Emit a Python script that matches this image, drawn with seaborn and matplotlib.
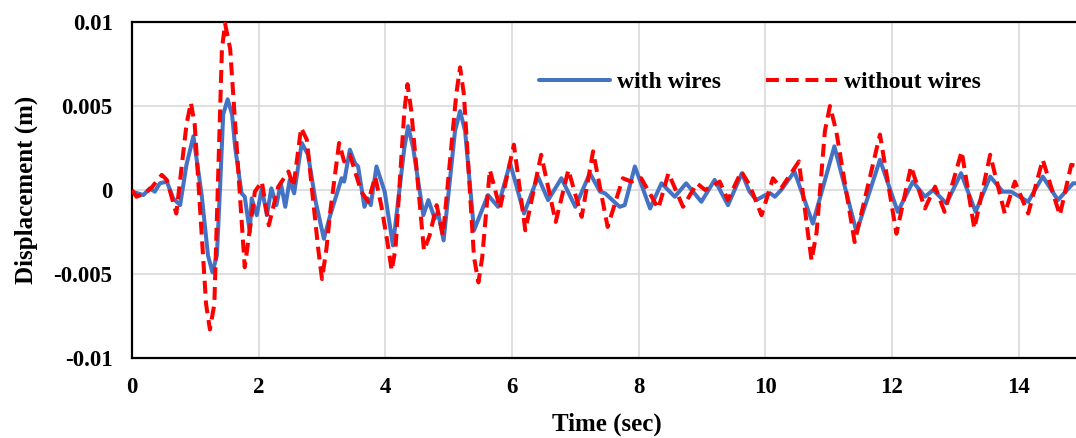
import matplotlib
matplotlib.use("Agg")
import matplotlib.pyplot as plt
import seaborn as sns
import pandas as pd

# ---- data ----
time_with = [0.00, 0.18, 0.28, 0.36, 0.44, 0.55, 0.65, 0.76, 0.86, 0.97, 1.10, 1.20, 1.27, 1.34,
             1.39, 1.44, 1.51, 1.58, 1.63, 1.73, 1.78, 1.86, 1.89, 1.97, 2.05, 2.13, 2.20, 2.28,
             2.35, 2.42, 2.49, 2.56, 2.68, 2.78, 2.90, 3.03, 3.13, 3.31, 3.35, 3.44, 3.52, 3.57,
             3.67, 3.72, 3.77, 3.86, 3.99, 4.12, 4.30, 4.36, 4.44, 4.60, 4.68, 4.78, 4.83, 4.92,
             5.10, 5.18, 5.26, 5.40, 5.62, 5.78, 5.97, 6.19, 6.41, 6.57, 6.78, 7.00, 7.23, 7.39,
             7.47, 7.70, 7.78, 7.94, 8.18, 8.36, 8.57, 8.75, 8.99, 9.20, 9.41, 9.63, 9.75, 9.86,
             10.00, 10.08, 10.15, 10.25, 10.46, 10.75, 11.09, 11.44, 11.81, 12.09, 12.33, 12.52,
             12.65, 12.86, 13.09, 13.32, 13.55, 13.75, 13.88, 14.15, 14.38, 14.62, 14.86, 14.95]
disp_with = [-0.0001, -0.0003, 0.0001, -0.0001, 0.0004, 0.0005, -0.0005, -0.0009, 0.0015, 0.0032,
             -0.0003, -0.0039, -0.0049, -0.0039, 0.0001, 0.0045, 0.0054, 0.0045, 0.0025, -0.0002,
             -0.0004, -0.0025, -0.0005, -0.0015, 0.0001, -0.0015, 0.0001, -0.0009, 0.0004, -0.0010,
             0.0006, -0.0002, 0.0028, 0.0021, -0.0007, -0.0029, -0.0015, 0.0007, 0.0005, 0.0024,
             0.0016, 0.0014, -0.0010, -0.0005, -0.0009, 0.0014, -0.0001, -0.0033, 0.0025, 0.0038,
             0.0025, -0.0015, -0.0006, -0.0017, -0.0013, -0.0030, 0.0035, 0.0047, 0.0035, -0.0024,
             -0.0003, -0.0010, 0.0016, -0.0014, 0.0008, -0.0006, 0.0007, -0.0010, 0.0010, -0.0001,
             -0.0002, -0.0010, -0.0009, 0.0014, -0.0011, 0.0004, -0.0004, 0.0004, -0.0007, 0.0006,
             -0.0009, 0.0010, -0.0001, -0.0006, -0.0003, -0.0002, -0.0004, 0.0000, 0.0011, -0.0020,
             0.0026, -0.0025, 0.0018, -0.0013, 0.0005, -0.0004, 0.0000, -0.0008, 0.0010, -0.0013,
             0.0008, -0.0001, -0.0001, -0.0007, 0.0008, -0.0006, 0.0004, 0.0004]

time_without = [0.00, 0.07, 0.20, 0.30, 0.47, 0.55, 0.70, 0.86, 0.93, 0.99, 1.17, 1.23, 1.30, 1.42,
                1.47, 1.55, 1.78, 1.94, 2.05, 2.16, 2.31, 2.47, 2.55, 2.67, 2.76, 2.94, 3.00, 3.07,
                3.13, 3.27, 3.35, 3.44, 3.62, 3.73, 3.84, 3.94, 4.05, 4.10, 4.16, 4.30, 4.35, 4.41,
                4.61, 4.70, 4.81, 4.91, 5.12, 5.18, 5.24, 5.40, 5.47, 5.53, 5.65, 5.81, 6.03, 6.21,
                6.46, 6.69, 6.89, 7.10, 7.28, 7.51, 7.75, 7.88, 8.04, 8.31, 8.47, 8.70, 8.92, 9.05,
                9.28, 9.41, 9.62, 9.75, 9.94, 10.12, 10.25, 10.53, 10.67, 10.73, 10.81, 10.94, 11.02,
                11.12, 11.41, 11.81, 12.07, 12.30, 12.52, 12.68, 12.83, 13.10, 13.30, 13.55, 13.78,
                13.94, 14.15, 14.38, 14.65, 14.83, 14.95]
disp_without = [0.0000, -0.0004, -0.0002, 0.0001, 0.0009, 0.0006, -0.0014, 0.0039, 0.0052, 0.0039,
                -0.0068, -0.0083, -0.0068, 0.0084, 0.0099, 0.0084, -0.0046, -0.0001, 0.0005, -0.0021,
                0.0002, 0.0011, 0.0002, 0.0037, 0.0030, -0.0035, -0.0053, -0.0035, -0.0013, 0.0028,
                0.0017, 0.0021, -0.0001, -0.0007, 0.0008, -0.0010, -0.0035, -0.0048, -0.0035, 0.0047,
                0.0063, 0.0047, -0.0036, -0.0027, -0.0009, -0.0027, 0.0057, 0.0073, 0.0057, -0.0040,
                -0.0055, -0.0040, 0.0012, -0.0011, 0.0027, -0.0024, 0.0021, -0.0019, 0.0012, -0.0016,
                0.0023, -0.0022, 0.0007, 0.0005, 0.0007, -0.0011, 0.0010, -0.0010, 0.0004, 0.0000,
                0.0005, -0.0006, 0.0011, 0.0003, -0.0015, 0.0007, 0.0001, 0.0017, -0.0025, -0.0042,
                -0.0025, 0.0035, 0.0050, 0.0035, -0.0031, 0.0033, -0.0026, 0.0014, -0.0011, 0.0002,
                -0.0013, 0.0023, -0.0023, 0.0021, -0.0014, 0.0005, -0.0014, 0.0018, -0.0015, 0.0015,
                0.0014]

x_ticks = [0, 2, 4, 6, 8, 10, 12, 14]
y_ticks = [-0.01, -0.005, 0, 0.005, 0.01]
y_tick_labels = ["-0.01", "-0.005", "0", "0.005", "0.01"]
labels = ["with wires", "without wires"]

sns.set_theme(style="white")
plt.rcParams["font.family"] = ["Liberation Serif", "DejaVu Serif"]
plt.rcParams["font.weight"] = "bold"

fig = plt.figure(figsize=(10.76, 4.38), dpi=100)
ax = fig.add_axes([132 / 1076, 1 - 358 / 438, 950 / 1076, 336 / 438])

df_w = pd.DataFrame({"t": time_with, "d": disp_with})
df_wo = pd.DataFrame({"t": time_without, "d": disp_without})

sns.lineplot(data=df_w, x="t", y="d", ax=ax, color="#4472C4", linewidth=2.9,
             estimator=None, sort=False, label=labels[0], zorder=3)
sns.lineplot(data=df_wo, x="t", y="d", ax=ax, color="#FF0000", linewidth=2.9,
             estimator=None, sort=False, label=labels[1], zorder=4)
ax.lines[-1].set_linestyle((0, (3.2, 1.7)))
ax.lines[-1].set_dash_capstyle("butt")
for ln in ax.lines:
    ln.set_solid_joinstyle("round")
    ln.set_dash_joinstyle("round")

ax.set_xlim(0, 15)
ax.set_ylim(-0.01, 0.01)
ax.set_xticks(x_ticks)
ax.set_xticklabels([str(v) for v in x_ticks])
ax.set_yticks(y_ticks)
ax.set_yticklabels(y_tick_labels)
ax.tick_params(axis="both", length=0, labelsize=16.5, pad=14, colors="black")
for lab in ax.get_xticklabels() + ax.get_yticklabels():
    lab.set_fontweight("bold")

ax.grid(True, color="#d9d9d9", linewidth=1.2)
ax.set_axisbelow(True)
for side in ["left", "bottom", "top"]:
    ax.spines[side].set_visible(True)
    ax.spines[side].set_color("black")
    ax.spines[side].set_linewidth(1.6)
ax.spines["right"].set_visible(False)

ax.set_xlabel("Time (sec)", fontsize=18, fontweight="bold", labelpad=10, color="black")
ax.set_ylabel("Displacement (m)", fontsize=18, fontweight="bold", labelpad=11, color="black")

leg = ax.legend(loc="center left", bbox_to_anchor=(0.416, 0.82), ncol=2, frameon=False,
                handlelength=3.0, handletextpad=0.3, columnspacing=1.9, borderpad=0,
                prop={"family": "Liberation Serif", "weight": "bold", "size": 17})
for t in leg.get_texts():
    t.set_color("black")

fig.savefig("out.png", dpi=100)
